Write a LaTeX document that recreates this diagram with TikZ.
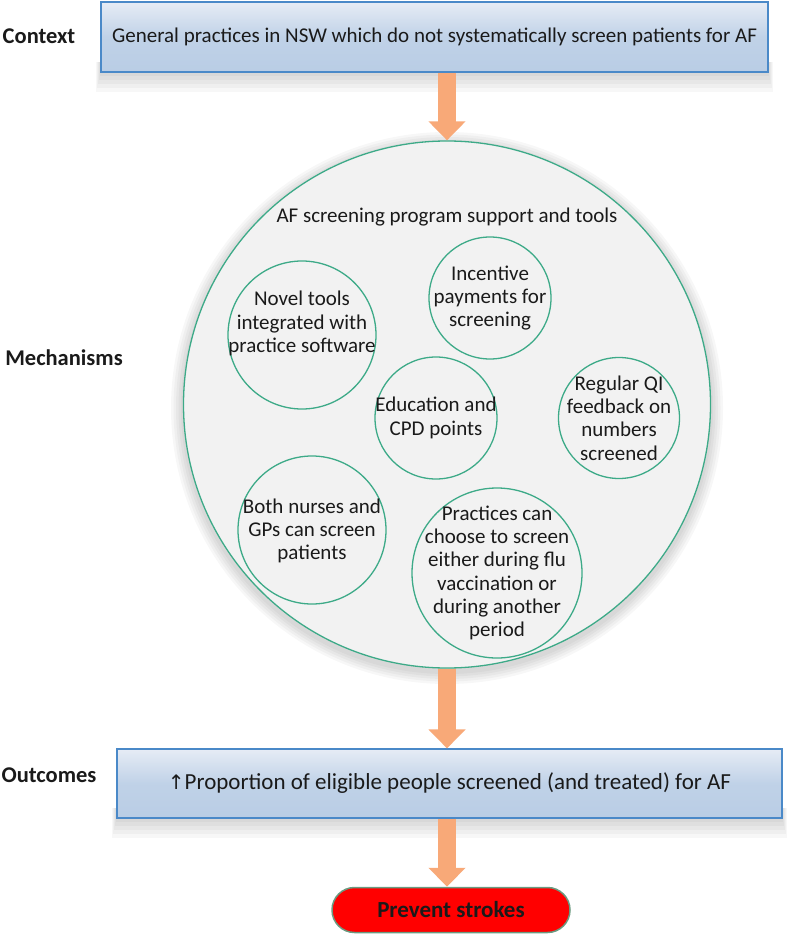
\documentclass[tikz,border=0pt]{standalone}
\usepackage{fontspec}
\setmainfont{Carlito}
\newfontfamily\symfont{DejaVu Sans}
\usetikzlibrary{arrows.meta,shapes.misc}
\definecolor{boxtop}{HTML}{E6ECF5}
\definecolor{boxbot}{HTML}{B9CDE5}
\definecolor{boxline}{HTML}{4A89C8}
\definecolor{circfill}{HTML}{F2F2F2}
\definecolor{circline}{HTML}{3DAA88}
\definecolor{arrowc}{HTML}{F8A978}
\definecolor{txt}{HTML}{1A1A1A}
\definecolor{pillline}{HTML}{6A9A80}
\tikzset{
  lbl/.style={font=\fontsize{22.5}{26}\selectfont\bfseries, text=txt, inner sep=0pt},
  body/.style={font=\fontsize{21}{23.3}\selectfont, text=txt, align=center, inner sep=0pt},
  bluebox/.style={rectangle, draw=boxline, line width=1.2pt, top color=boxtop, bottom color=boxbot, middle color=boxbot!85!boxtop, inner sep=0pt, body},
  smallc/.style={circle, draw=circline, line width=1.3pt, fill=circfill, inner sep=0pt},
  flowarrow/.style={draw=arrowc, line width=18pt, -{Triangle[width=36pt,length=19pt]}},
  shade/.style={fill=black, opacity=0.03}
}
\begin{document}
\begin{tikzpicture}[x=1pt,y=-1pt]
\useasboundingbox[fill=white] (0,0) rectangle (787,936);
% soft shadows
\foreach \k in {1,...,5} {
  \fill[shade] (101-\k,62) rectangle (768+\k,72+4*\k);
  \fill[shade] (117-\k,808) rectangle (782+\k,818+4*\k);
  \fill[shade] (447,408) circle ({263.5+2.5*\k});
}
% nodes
\node[bluebox, minimum width=667pt, minimum height=70pt] (ctx) at (434.5,37) {General practices in NSW which do not systematically screen patients for AF};
\node[circle, draw=circline, line width=1.3pt, fill=circfill, minimum size=527pt, inner sep=0pt] (mech) at (447,404.5) {};
\node[body] (title) at (447,217) {AF screening program support and tools};
\node[smallc, minimum size=148pt] (novel) at (302,335) {};
\node[body] (novelt) at (302,323.5) {Novel tools\\integrated with\\practice software};
\node[smallc, minimum size=122pt] (inc) at (490,298) {};
\node[body] (inct) at (inc) {Incentive\\payments for\\screening};
\node[smallc, minimum size=122pt] (edu) at (436,418) {};
\node[body] (edut) at (edu) {Education and\\CPD points};
\node[smallc, minimum size=121pt] (qi) at (619,418) {};
\node[body] (qit) at (qi) {Regular QI\\feedback on\\numbers\\screened};
\node[smallc, minimum size=148pt] (both) at (312,530) {};
\node[body] (botht) at (312,531) {Both nurses and\\GPs can screen\\patients};
\node[smallc, minimum size=170pt] (prac) at (497,573) {};
\node[body] (pract) at (prac) {Practices can\\choose to screen\\either during flu\\vaccination or\\during another\\period};
\node[bluebox, minimum width=665pt, minimum height=69pt, font=\fontsize{23}{26}\selectfont] (out) at (449.5,783.5) {{\symfont\fontsize{20}{26}\selectfont↑}Proportion of eligible people screened (and treated) for AF};
\node[rounded rectangle, draw=pillline, line width=1.5pt, fill=red, minimum width=238pt, minimum height=45pt, inner sep=0pt, font=\fontsize{23}{26}\selectfont\bfseries, text=txt] (pill) at (451,910) {Prevent strokes};
% side labels
\node[lbl] (lctx) at (39,36) {Context};
\node[lbl] (lmech) at (64,358) {Mechanisms};
\node[lbl] (lout) at (49,775) {Outcomes};
% arrows
\draw[flowarrow] (mech.north |- ctx.south) -- (mech.north);
\draw[flowarrow] (mech.south) -- (mech.south |- out.north);
\draw[flowarrow] (mech.south |- out.south) -- (mech.south |- pill.north);
\end{tikzpicture}
\end{document}
